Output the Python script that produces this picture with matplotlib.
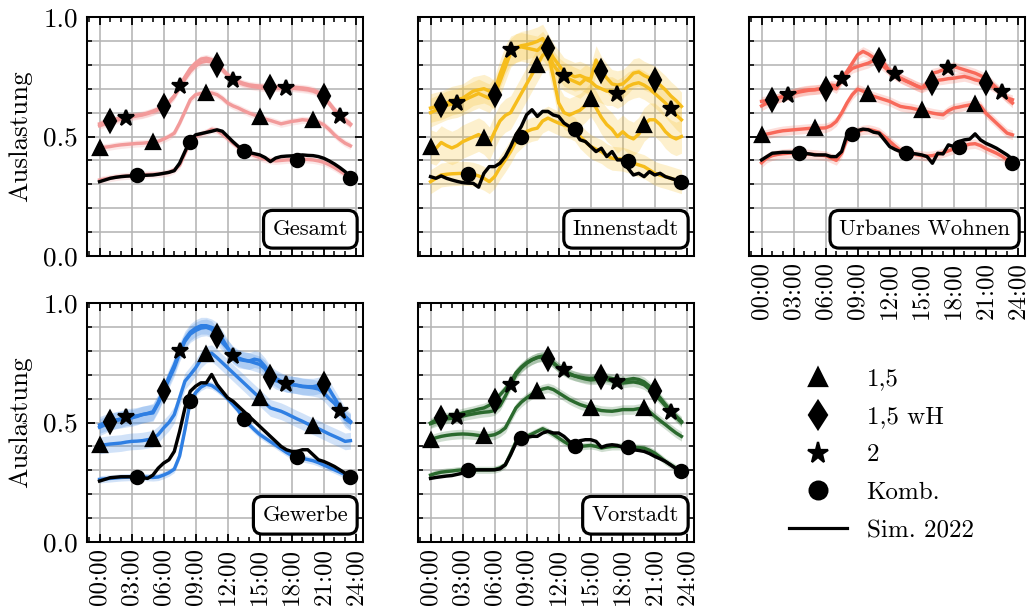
#!/usr/bin/env python3
# -*- coding: utf-8 -*-
"""
Auslastung je Gebietstyp ueber den Tag (Szenarien 1,5 / 1,5 wH / 2 / Komb. + Sim. 2022).
"""

import numpy as np
import matplotlib
matplotlib.use("Agg")
import matplotlib.pyplot as plt
from matplotlib.lines import Line2D
from matplotlib.ticker import MultipleLocator

# ----------------- data -----------------
HOURS = np.arange(48) * 0.5          # halbstuendlich, 00:00 .. 23:30
XTICKS = [0, 3, 6, 9, 12, 15, 18, 21, 24]
XTICK_LABELS = ["00:00", "03:00", "06:00", "09:00", "12:00",
                "15:00", "18:00", "21:00", "24:00"]
YTICKS = [0.0, 0.5, 1.0]
YTICK_LABELS = ["0.0", "0.5", "1.0"]

SCENARIOS = ["1,5", "1,5 wH", "2", "Komb."]
SIM_LABEL = "Sim. 2022"
PANEL_NAMES = ["Gesamt", "Innenstadt", "Urbanes Wohnen", "Gewerbe", "Vorstadt"]

# Gesamt
GES_15 = [0.451, 0.455, 0.458, 0.462, 0.465, 0.467, 0.469, 0.471, 0.472, 0.474, 0.475, 0.480,
          0.489, 0.500, 0.514, 0.556, 0.605, 0.654, 0.675, 0.680, 0.684, 0.682, 0.675, 0.660,
          0.640, 0.628, 0.619, 0.608, 0.598, 0.590, 0.581, 0.573, 0.567, 0.560, 0.553, 0.558,
          0.563, 0.566, 0.570, 0.568, 0.567, 0.560, 0.549, 0.530, 0.507, 0.488, 0.472, 0.461]
GES_15WH = [0.553, 0.560, 0.566, 0.572, 0.578, 0.582, 0.586, 0.589, 0.592, 0.598, 0.606, 0.615,
            0.628, 0.645, 0.670, 0.705, 0.740, 0.772, 0.795, 0.810, 0.815, 0.812, 0.800, 0.780,
            0.758, 0.742, 0.730, 0.722, 0.716, 0.713, 0.711, 0.709, 0.707, 0.707, 0.708, 0.707,
            0.706, 0.705, 0.703, 0.700, 0.695, 0.685, 0.668, 0.640, 0.612, 0.590, 0.570, 0.553]
GES_2 = [0.545, 0.553, 0.560, 0.567, 0.573, 0.578, 0.582, 0.586, 0.590, 0.596, 0.603, 0.612,
         0.624, 0.642, 0.668, 0.710, 0.750, 0.785, 0.808, 0.824, 0.828, 0.822, 0.805, 0.780,
         0.756, 0.738, 0.726, 0.718, 0.712, 0.708, 0.705, 0.703, 0.702, 0.703, 0.704, 0.704,
         0.703, 0.700, 0.698, 0.695, 0.690, 0.680, 0.664, 0.638, 0.610, 0.586, 0.566, 0.549]
GES_KOMB = [0.318, 0.322, 0.326, 0.330, 0.333, 0.335, 0.337, 0.339, 0.340, 0.341, 0.342, 0.343,
            0.345, 0.350, 0.360, 0.380, 0.430, 0.478, 0.500, 0.510, 0.518, 0.530, 0.525, 0.510,
            0.492, 0.472, 0.455, 0.440, 0.430, 0.420, 0.412, 0.405, 0.400, 0.398, 0.400, 0.402,
            0.403, 0.403, 0.405, 0.404, 0.402, 0.398, 0.392, 0.382, 0.370, 0.356, 0.342, 0.328]
GES_SIM = [0.311, 0.318, 0.325, 0.329, 0.332, 0.334, 0.335, 0.337, 0.337, 0.338, 0.339, 0.342,
           0.346, 0.350, 0.357, 0.388, 0.437, 0.486, 0.507, 0.512, 0.517, 0.522, 0.528, 0.522,
           0.500, 0.478, 0.458, 0.442, 0.433, 0.428, 0.423, 0.412, 0.395, 0.410, 0.416, 0.418,
           0.419, 0.420, 0.423, 0.421, 0.420, 0.416, 0.409, 0.398, 0.385, 0.370, 0.353, 0.330]
GES_BAND = [0.015, 0.015, 0.015, 0.015]

# Innenstadt
INN_15 = [0.458, 0.450, 0.475, 0.462, 0.452, 0.462, 0.478, 0.488, 0.498, 0.508, 0.495, 0.470,
          0.520, 0.565, 0.588, 0.600, 0.640, 0.680, 0.720, 0.760, 0.800, 0.840, 0.850, 0.750,
          0.640, 0.600, 0.590, 0.600, 0.610, 0.630, 0.655, 0.620, 0.580, 0.550, 0.530, 0.500,
          0.520, 0.500, 0.490, 0.510, 0.550, 0.570, 0.570, 0.550, 0.520, 0.500, 0.490, 0.500]
INN_15WH = [0.619, 0.625, 0.630, 0.640, 0.650, 0.655, 0.660, 0.675, 0.690, 0.695, 0.700, 0.690,
            0.672, 0.730, 0.790, 0.850, 0.870, 0.880, 0.884, 0.890, 0.898, 0.910, 0.870, 0.830,
            0.800, 0.770, 0.760, 0.750, 0.755, 0.745, 0.740, 0.820, 0.775, 0.745, 0.720, 0.715,
            0.720, 0.740, 0.765, 0.770, 0.755, 0.745, 0.735, 0.715, 0.695, 0.670, 0.650, 0.626]
INN_2 = [0.600, 0.610, 0.620, 0.630, 0.636, 0.640, 0.650, 0.660, 0.670, 0.680, 0.670, 0.660,
         0.690, 0.760, 0.820, 0.860, 0.870, 0.875, 0.870, 0.865, 0.860, 0.880, 0.850, 0.800,
         0.770, 0.752, 0.740, 0.730, 0.720, 0.740, 0.730, 0.710, 0.700, 0.690, 0.690, 0.678,
         0.690, 0.710, 0.720, 0.725, 0.715, 0.700, 0.680, 0.660, 0.640, 0.615, 0.590, 0.570]
INN_KOMB = [0.311, 0.325, 0.339, 0.342, 0.344, 0.345, 0.346, 0.345, 0.342, 0.335, 0.325, 0.311,
            0.332, 0.370, 0.402, 0.437, 0.479, 0.500, 0.521, 0.530, 0.535, 0.565, 0.577, 0.566,
            0.556, 0.548, 0.542, 0.531, 0.500, 0.478, 0.458, 0.447, 0.437, 0.420, 0.409, 0.407,
            0.405, 0.398, 0.388, 0.381, 0.374, 0.360, 0.346, 0.338, 0.332, 0.325, 0.318, 0.311]
INN_SIM = [0.332, 0.325, 0.335, 0.325, 0.318, 0.312, 0.307, 0.305, 0.304, 0.288, 0.346, 0.374,
           0.374, 0.388, 0.416, 0.458, 0.507, 0.542, 0.591, 0.612, 0.584, 0.605, 0.605, 0.590,
           0.584, 0.556, 0.542, 0.521, 0.486, 0.479, 0.458, 0.437, 0.451, 0.416, 0.437, 0.402,
           0.402, 0.367, 0.339, 0.346, 0.332, 0.353, 0.339, 0.346, 0.332, 0.325, 0.318, 0.307]
INN_BAND = [0.07, 0.06, 0.06, 0.05]

# Urbanes Wohnen
URB_15 = [0.505, 0.510, 0.515, 0.520, 0.524, 0.526, 0.528, 0.530, 0.532, 0.534, 0.535, 0.535,
          0.536, 0.545, 0.563, 0.598, 0.640, 0.675, 0.698, 0.690, 0.678, 0.668, 0.661, 0.654,
          0.647, 0.636, 0.626, 0.622, 0.619, 0.614, 0.609, 0.603, 0.598, 0.594, 0.591, 0.608,
          0.619, 0.623, 0.628, 0.632, 0.637, 0.628, 0.598, 0.577, 0.556, 0.535, 0.514, 0.507]
URB_15WH = [0.628, 0.640, 0.652, 0.660, 0.666, 0.672, 0.680, 0.686, 0.690, 0.694, 0.696, 0.698,
            0.700, 0.712, 0.700, 0.735, 0.765, 0.785, 0.793, 0.800, 0.807, 0.818, 0.821, 0.805,
            0.772, 0.755, 0.744, 0.733, 0.723, 0.712, 0.703, 0.712, 0.725, 0.735, 0.738, 0.742,
            0.744, 0.748, 0.751, 0.745, 0.737, 0.732, 0.725, 0.712, 0.700, 0.680, 0.660, 0.640]
URB_2 = [0.647, 0.650, 0.654, 0.660, 0.668, 0.675, 0.682, 0.688, 0.693, 0.695, 0.696, 0.700,
         0.703, 0.715, 0.712, 0.742, 0.772, 0.807, 0.842, 0.856, 0.845, 0.830, 0.807, 0.790,
         0.772, 0.760, 0.744, 0.733, 0.723, 0.712, 0.703, 0.723, 0.765, 0.770, 0.779, 0.786,
         0.793, 0.786, 0.779, 0.772, 0.765, 0.755, 0.744, 0.725, 0.703, 0.685, 0.661, 0.654]
URB_KOMB = [0.390, 0.410, 0.420, 0.425, 0.428, 0.430, 0.432, 0.430, 0.428, 0.426, 0.425, 0.422,
            0.420, 0.410, 0.400, 0.430, 0.490, 0.510, 0.520, 0.528, 0.530, 0.525, 0.518, 0.500,
            0.480, 0.460, 0.442, 0.432, 0.428, 0.424, 0.420, 0.418, 0.420, 0.425, 0.432, 0.440,
            0.448, 0.455, 0.462, 0.468, 0.470, 0.462, 0.450, 0.440, 0.430, 0.418, 0.402, 0.390]
URB_SIM = [0.402, 0.416, 0.430, 0.432, 0.434, 0.434, 0.434, 0.430, 0.430, 0.427, 0.423, 0.423,
           0.423, 0.416, 0.416, 0.437, 0.507, 0.517, 0.525, 0.531, 0.528, 0.518, 0.514, 0.486,
           0.458, 0.446, 0.437, 0.430, 0.430, 0.427, 0.423, 0.416, 0.388, 0.430, 0.427, 0.465,
           0.458, 0.479, 0.486, 0.489, 0.511, 0.486, 0.472, 0.462, 0.451, 0.437, 0.423, 0.405]
URB_BAND = [0.02, 0.02, 0.02, 0.02]

# Gewerbe
GEW_15 = [0.404, 0.407, 0.410, 0.412, 0.414, 0.418, 0.421, 0.422, 0.424, 0.428, 0.432, 0.450,
          0.477, 0.500, 0.533, 0.603, 0.673, 0.700, 0.729, 0.764, 0.785, 0.790, 0.771, 0.750,
          0.729, 0.708, 0.687, 0.666, 0.645, 0.624, 0.603, 0.582, 0.561, 0.554, 0.547, 0.537,
          0.526, 0.515, 0.505, 0.494, 0.484, 0.474, 0.463, 0.452, 0.442, 0.432, 0.421, 0.424]
GEW_15WH = [0.480, 0.490, 0.502, 0.508, 0.512, 0.516, 0.519, 0.525, 0.533, 0.537, 0.540, 0.580,
            0.631, 0.680, 0.729, 0.790, 0.840, 0.870, 0.885, 0.895, 0.898, 0.890, 0.860, 0.835,
            0.810, 0.785, 0.770, 0.762, 0.757, 0.750, 0.743, 0.725, 0.690, 0.675, 0.668, 0.662,
            0.659, 0.656, 0.652, 0.650, 0.650, 0.655, 0.659, 0.640, 0.603, 0.565, 0.526, 0.505]
GEW_2 = [0.490, 0.498, 0.505, 0.510, 0.515, 0.522, 0.525, 0.528, 0.533, 0.538, 0.545, 0.585,
         0.635, 0.690, 0.740, 0.800, 0.848, 0.878, 0.895, 0.905, 0.905, 0.898, 0.884, 0.850,
         0.813, 0.780, 0.764, 0.760, 0.757, 0.765, 0.760, 0.735, 0.701, 0.685, 0.673, 0.662,
         0.659, 0.655, 0.650, 0.648, 0.645, 0.640, 0.625, 0.600, 0.580, 0.550, 0.515, 0.500]
GEW_KOMB = [0.262, 0.264, 0.266, 0.268, 0.270, 0.271, 0.272, 0.272, 0.272, 0.271, 0.270, 0.272,
            0.280, 0.290, 0.305, 0.360, 0.470, 0.590, 0.625, 0.648, 0.660, 0.655, 0.640, 0.622,
            0.600, 0.575, 0.550, 0.515, 0.492, 0.470, 0.450, 0.435, 0.420, 0.405, 0.390, 0.375,
            0.362, 0.355, 0.350, 0.345, 0.340, 0.332, 0.322, 0.312, 0.302, 0.292, 0.282, 0.272]
GEW_SIM = [0.255, 0.262, 0.269, 0.271, 0.273, 0.273, 0.273, 0.273, 0.269, 0.266, 0.280, 0.309,
           0.330, 0.344, 0.379, 0.463, 0.561, 0.631, 0.652, 0.666, 0.666, 0.701, 0.659, 0.631,
           0.603, 0.589, 0.568, 0.547, 0.526, 0.505, 0.484, 0.463, 0.442, 0.421, 0.400, 0.386,
           0.379, 0.379, 0.386, 0.386, 0.365, 0.344, 0.337, 0.327, 0.316, 0.302, 0.288, 0.269]
GEW_BAND = [0.035, 0.035, 0.035, 0.015]

# Vorstadt
VOR_15 = [0.428, 0.436, 0.442, 0.446, 0.449, 0.451, 0.452, 0.451, 0.449, 0.446, 0.442, 0.445,
          0.449, 0.460, 0.477, 0.519, 0.561, 0.585, 0.603, 0.618, 0.631, 0.640, 0.645, 0.638,
          0.624, 0.610, 0.596, 0.585, 0.575, 0.568, 0.561, 0.555, 0.550, 0.548, 0.547, 0.550,
          0.554, 0.554, 0.554, 0.558, 0.561, 0.545, 0.526, 0.508, 0.491, 0.473, 0.456, 0.442]
VOR_15WH = [0.498, 0.510, 0.519, 0.523, 0.526, 0.533, 0.540, 0.545, 0.550, 0.556, 0.561, 0.572,
            0.590, 0.615, 0.640, 0.668, 0.708, 0.732, 0.750, 0.763, 0.772, 0.775, 0.765, 0.748,
            0.729, 0.714, 0.701, 0.695, 0.690, 0.686, 0.684, 0.686, 0.690, 0.688, 0.684, 0.680,
            0.676, 0.680, 0.684, 0.680, 0.670, 0.652, 0.630, 0.603, 0.575, 0.550, 0.526, 0.505]
VOR_2 = [0.495, 0.503, 0.510, 0.515, 0.518, 0.522, 0.527, 0.532, 0.536, 0.540, 0.543, 0.545,
         0.550, 0.570, 0.610, 0.655, 0.700, 0.728, 0.748, 0.762, 0.772, 0.778, 0.769, 0.750,
         0.730, 0.718, 0.705, 0.695, 0.688, 0.682, 0.678, 0.680, 0.684, 0.680, 0.674, 0.668,
         0.665, 0.668, 0.670, 0.666, 0.658, 0.640, 0.618, 0.595, 0.570, 0.545, 0.522, 0.500]
VOR_KOMB = [0.280, 0.287, 0.292, 0.295, 0.297, 0.300, 0.302, 0.303, 0.302, 0.302, 0.302, 0.302,
            0.303, 0.310, 0.323, 0.370, 0.420, 0.435, 0.442, 0.452, 0.463, 0.474, 0.463, 0.450,
            0.435, 0.420, 0.407, 0.402, 0.400, 0.402, 0.404, 0.400, 0.393, 0.397, 0.400, 0.400,
            0.400, 0.398, 0.396, 0.395, 0.393, 0.384, 0.372, 0.355, 0.337, 0.323, 0.309, 0.295]
VOR_SIM = [0.266, 0.270, 0.273, 0.276, 0.278, 0.283, 0.288, 0.296, 0.302, 0.302, 0.302, 0.302,
           0.302, 0.306, 0.323, 0.365, 0.414, 0.432, 0.438, 0.442, 0.442, 0.456, 0.463, 0.456,
           0.456, 0.442, 0.421, 0.404, 0.424, 0.428, 0.428, 0.421, 0.396, 0.404, 0.407, 0.404,
           0.396, 0.390, 0.386, 0.383, 0.379, 0.370, 0.358, 0.348, 0.337, 0.322, 0.306, 0.292]
VOR_BAND = [0.02, 0.02, 0.02, 0.015]

# ----------------- style -----------------
PANEL_COLORS = ["#f29a9a", "#f6bd1c", "#f8695a", "#2f7fe3", "#2b6a2e"]
MARKERS = ["^", "d", "*", "o"]
MARK_START = [0, 2, 5, 7]       # Index-Offset der Marker (halbstuendlich)
MARK_STEP = 10
MS = [6.2, 6.6, 7.2, 5.8]

W_PX, H_PX, DPI = 1028, 615, 163.2
COL_LEFT = [87, 418, 749]
ROW_BOTTOM = [256, 542]
AX_W, AX_H = 276, 239

FS_XTICK = 11
FS_YTICK = 12
FS_LABEL = 12
FS_BOX = 10
FS_LEG = 11

plt.rcParams.update({
    "font.family": "serif",
    "font.serif": ["cmr10", "DejaVu Serif"],
    "mathtext.fontset": "cm",
    "axes.formatter.use_mathtext": True,
    "font.size": 10,
    "axes.linewidth": 0.9,
    "xtick.direction": "in",
    "ytick.direction": "in",
    "xtick.top": True,
    "ytick.right": True,
    "xtick.major.size": 3.5,
    "ytick.major.size": 3.5,
    "xtick.minor.size": 2.0,
    "ytick.minor.size": 2.0,
    "xtick.major.width": 0.8,
    "ytick.major.width": 0.8,
    "xtick.minor.width": 0.7,
    "ytick.minor.width": 0.7,
})


def panel_axes(fig, row, col):
    left = COL_LEFT[col] / W_PX
    bottom = 1 - ROW_BOTTOM[row] / H_PX
    return fig.add_axes([left, bottom, AX_W / W_PX, AX_H / H_PX])


def style_axes(ax, show_x, show_y):
    ax.set_ylim(0, 1)
    ax.set_xticks(XTICKS)
    ax.set_yticks(YTICKS)
    ax.xaxis.set_minor_locator(MultipleLocator(1))
    ax.yaxis.set_minor_locator(MultipleLocator(0.1))
    ax.grid(True, which="major", axis="x", color="#b4b4b4", lw=0.7, zorder=0)
    ax.grid(True, which="both", axis="y", color="#b4b4b4", lw=0.7, zorder=0)
    ax.set_axisbelow(True)
    ax.tick_params(which="both", top=True, right=True)
    if show_x:
        ax.set_xticklabels(XTICK_LABELS, rotation=90, fontsize=FS_XTICK)
        ax.tick_params(axis="x", pad=2.5)
    else:
        ax.tick_params(axis="x", labelbottom=False)
    if show_y:
        ax.set_yticklabels(YTICK_LABELS, fontsize=FS_YTICK)
        ax.tick_params(axis="y", pad=4)
        ax.set_ylabel("Auslastung", fontsize=FS_LABEL, labelpad=5)
    else:
        ax.tick_params(axis="y", labelleft=False)


def plot_panel(ax, name, color, series, sim, bands):
    for vals, band in zip(series, bands):
        v = np.asarray(vals)
        ax.fill_between(HOURS, v - band, v + band, color=color, alpha=0.22,
                        lw=0, zorder=1)
        ax.plot(HOURS, v, color=color, lw=1.5, zorder=2)
    ax.plot(HOURS, sim, color="k", lw=1.5, zorder=3)
    for vals, mk, st, ms in zip(series, MARKERS, MARK_START, MS):
        ax.plot(HOURS, vals, ls="none", marker=mk, ms=ms, color="k",
                markevery=(st, MARK_STEP), zorder=4)
    ax.text(0.946, 0.071, name, transform=ax.transAxes, ha="right", va="bottom",
            fontsize=FS_BOX, zorder=6,
            bbox=dict(boxstyle="round,pad=0.4", fc="white", ec="k", lw=1.4))


def main():
    fig = plt.figure(figsize=(W_PX / DPI, H_PX / DPI), dpi=DPI)

    panels = [
        (GES_15, GES_15WH, GES_2, GES_KOMB, GES_SIM, GES_BAND),
        (INN_15, INN_15WH, INN_2, INN_KOMB, INN_SIM, INN_BAND),
        (URB_15, URB_15WH, URB_2, URB_KOMB, URB_SIM, URB_BAND),
        (GEW_15, GEW_15WH, GEW_2, GEW_KOMB, GEW_SIM, GEW_BAND),
        (VOR_15, VOR_15WH, VOR_2, VOR_KOMB, VOR_SIM, VOR_BAND),
    ]
    slots = [(0, 0), (0, 1), (0, 2), (1, 0), (1, 1)]

    for k, (row, col) in enumerate(slots):
        ax = panel_axes(fig, row, col)
        d = panels[k]
        plot_panel(ax, PANEL_NAMES[k], PANEL_COLORS[k], d[:4], d[4], d[5])
        show_x = (row == 1) or (col == 2)
        style_axes(ax, show_x=show_x, show_y=(col == 0))

    # Legende im freien Feld unten rechts
    handles = [Line2D([], [], ls="none", marker=m, ms=ms, color="k")
               for m, ms in zip(MARKERS, MS)]
    handles.append(Line2D([], [], color="k", lw=1.4))
    fig.legend(handles, SCENARIOS + [SIM_LABEL], loc="center",
               bbox_to_anchor=(881.5 / W_PX, 1 - 455 / H_PX),
               frameon=False, markerscale=1.35, handlelength=2.3,
               handletextpad=0.8, labelspacing=0.62, fontsize=FS_LEG)

    fig.savefig("out.png", dpi=DPI)
    plt.close(fig)


if __name__ == "__main__":
    main()
